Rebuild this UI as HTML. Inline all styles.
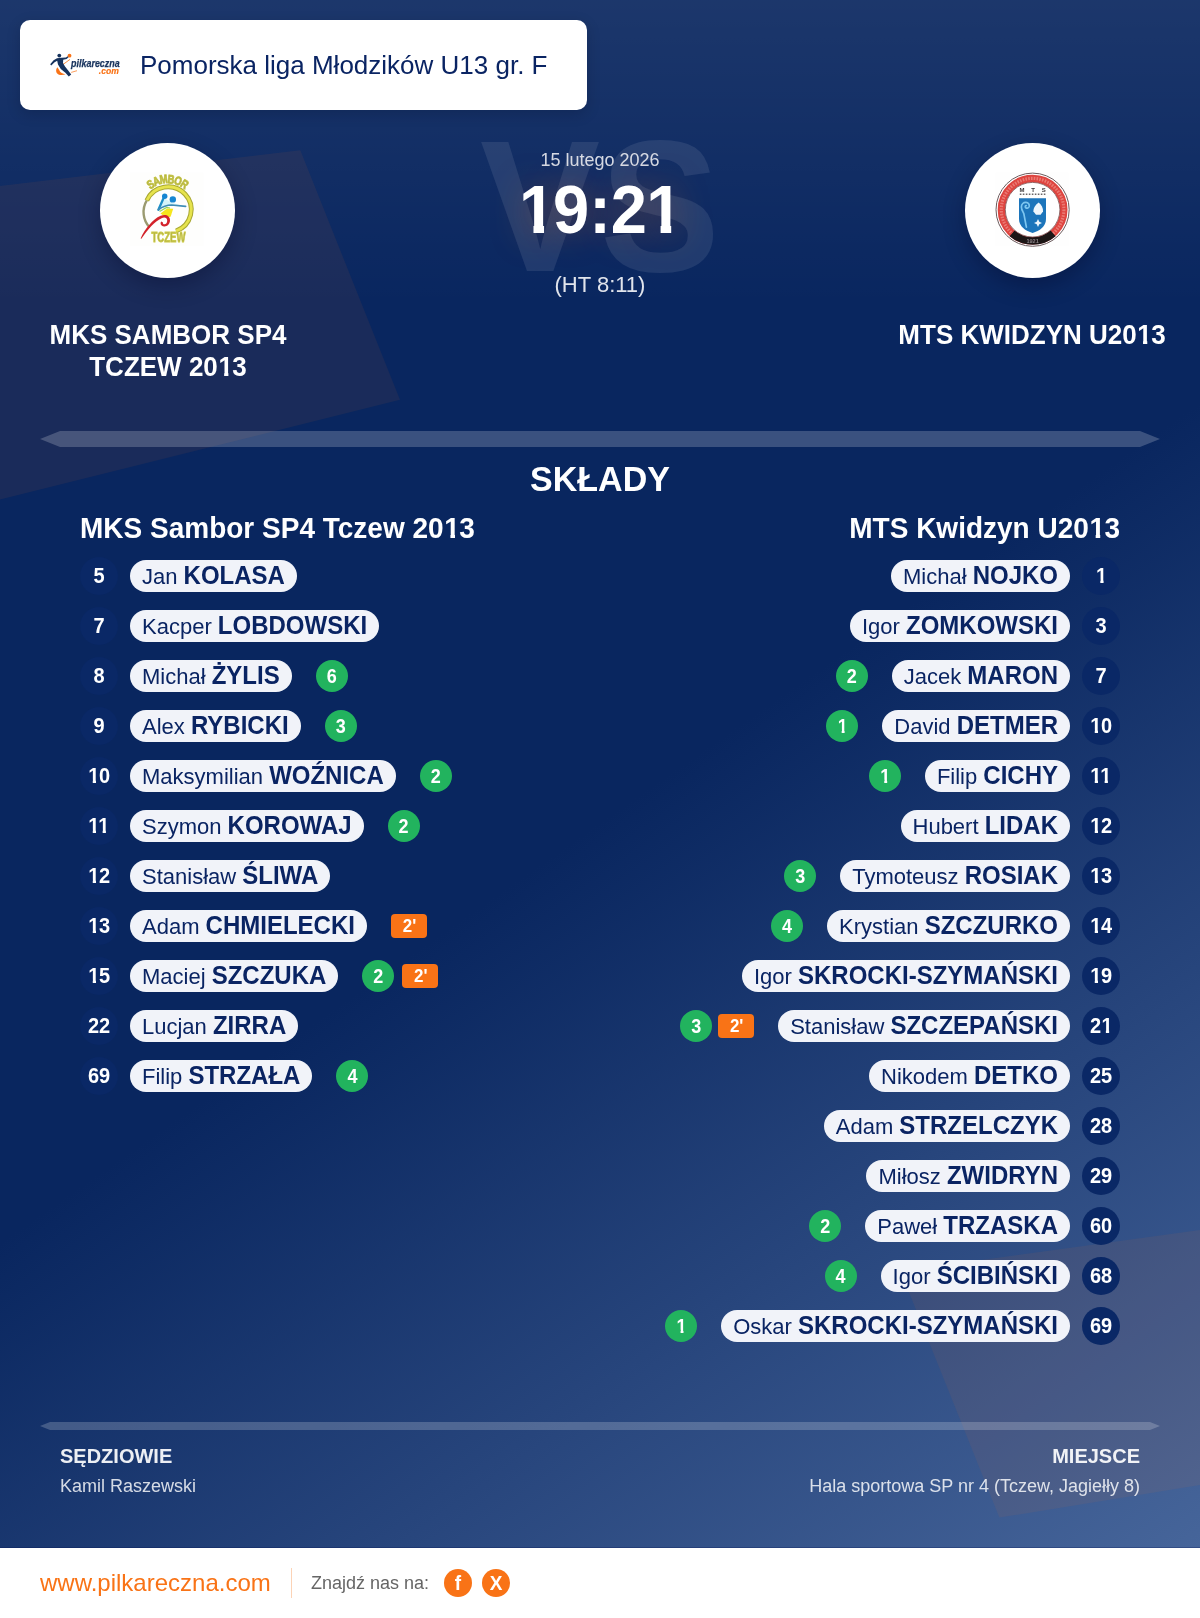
<!DOCTYPE html>
<html lang="pl"><head><meta charset="utf-8"><title>Pomorska liga Młodzików U13 gr. F</title>
<style>
*{box-sizing:border-box;margin:0;padding:0}
html,body{width:1200px;height:1618px;overflow:hidden;background:#fff}
body{font-family:"Liberation Sans",sans-serif;color:#fff;position:relative}
#bg{position:absolute;left:0;top:0;width:1200px;height:1548px;overflow:hidden;
 background:
  linear-gradient(180deg,rgba(255,255,255,.08) 0,rgba(255,255,255,0) 305px),
  linear-gradient(145deg,#09265f 0,#09265f 1018px,#46659a 1956px);
}
#bg svg{position:absolute;left:0;top:0}
#wrap{position:absolute;left:0;top:0;width:1200px;height:1618px;overflow:hidden;background:#0a2463;will-change:transform;transform:translateZ(0)}
.abs{position:absolute}
#head{left:20px;top:20px;width:567px;height:90px;background:#fff;border-radius:10px;box-shadow:0 4px 14px rgba(0,0,20,.18)}
#head .t{position:absolute;left:120px;top:0;line-height:90px;font-size:26px;color:#0a2463;white-space:nowrap}
.crest{width:135px;height:135px;border-radius:50%;background:#fff;top:143px;box-shadow:0 8px 22px rgba(0,0,30,.3)}
.vs{left:0;width:1200px;text-align:center;top:103px;font-size:180px;line-height:206px;font-weight:bold;color:rgba(255,255,255,.09);white-space:nowrap;transform:scaleY(1.045)}
.date{left:0;width:1200px;text-align:center;top:149px;font-size:18px;line-height:22px;color:rgba(255,255,255,.82)}
.score{left:0;width:1200px;text-align:center;top:172px;font-size:65px;line-height:76px;font-weight:bold;transform:scaleY(1.04)}
.glow{color:transparent;text-shadow:0 0 34px rgba(249,115,22,.35)}
.ht{left:0;width:1200px;text-align:center;top:272px;font-size:22px;line-height:26px;color:rgba(255,255,255,.88)}
.team{width:300px;text-align:center;top:319px;font-size:26px;line-height:32px;font-weight:bold}
.team span,.num i,.goal i,.pen i,.lab i{display:inline-block;font-style:normal;transform:scaleY(1.04)}
.num i{transform-origin:50% 25.9px;transform:scaleY(1.12)}
.goal i{transform-origin:50% 22.2px;transform:translateY(.55px) scaleY(1.12)}
.pen i{transform-origin:50% 17.9px;transform:translate(.5px,.75px) scaleY(1.1)}
.bar{left:40px;width:1120px;background:rgba(255,255,255,.2)}
.h2{left:0;width:1200px;text-align:center;top:459px;font-size:34px;transform:scaleY(1.04);line-height:40px;font-weight:bold}
.h3{top:513px;font-size:28px;line-height:32px;font-weight:bold;white-space:nowrap;transform:scaleY(1.03)}
.row{position:absolute;height:38px;display:flex;align-items:center;white-space:nowrap}
.row.l{left:80px}
.row.r{right:80px;justify-content:flex-end}
.num{width:38px;height:38px;border-radius:50%;background:#0a2866;font-weight:bold;font-size:20px;line-height:38px;text-align:center;flex:none}
.pill{height:32px;border-radius:16px;background:#f1f3f9;color:#0a2463;font-size:22px;line-height:32px;padding:0 12px;margin:0 12px}
.o{display:inline-block;line-height:1;text-decoration:none;clip-path:polygon(0 0,.385em 0,.385em 100%,.222em 100%,.222em .7em,0 .7em);position:relative;left:.022em}
.pill b{font-size:24px;display:inline-block;transform:scaleY(1.04)}
.ev{display:flex;align-items:center;gap:8px;margin:0 12px}
.row.r .ev{gap:6px}
.goal{width:32px;height:32px;border-radius:50%;background:#22b35e;font-weight:bold;font-size:18px;line-height:32px;text-align:center}
.pen{width:36px;height:24px;border-radius:4px;background:#f97316;font-weight:bold;font-size:17px;line-height:24px;text-align:center}
.lab{font-size:20px;line-height:24px;font-weight:bold;color:rgba(255,255,255,.92);top:1444px}
.val{font-size:18px;line-height:22px;color:rgba(255,255,255,.82);top:1475px}
#foot{left:0;top:1548px;width:1200px;height:70px;background:#fff}
#foot .www{position:absolute;left:40px;top:0;line-height:70px;font-size:24px;color:#f97316}
#foot .sep{position:absolute;left:291px;top:20px;width:1px;height:30px;background:#fcd3b6}
#foot .find{position:absolute;left:311px;top:0;line-height:70px;font-size:18px;color:#666}
.soc{position:absolute;top:21px;width:28px;height:28px;border-radius:50%;background:#f97316;color:#fff;font-weight:bold;font-size:19px;line-height:28px;text-align:center}
.soc i{display:inline-block;font-style:normal;transform:translateY(.5px) scaleY(1.08)}
</style></head>
<body>
<div id="wrap">
<div id="bg">
<svg width="1200" height="1548" viewBox="0 0 1200 1548">
<polygon points="-10,187.2 300.3,150.3 400,399.8 -10,502" fill="rgba(249,115,22,.07)"/>
<polygon points="900.5,1271 1210,1228.6 1210,1483.4 999.4,1517.6" fill="rgba(249,115,22,.07)"/>
</svg>
</div>
<div class="abs vs">VS</div>
<div id="head" class="abs"><div class="t">Pomorska liga Młodzików U13 gr. F</div></div>
<div class="abs crest" style="left:100px"></div>
<svg class="abs" style="left:45px;top:45px" width="80" height="40" viewBox="0 0 80 40">
<defs><filter id="bl" x="-10%" y="-10%" width="120%" height="120%"><feGaussianBlur stdDeviation="0.35"/></filter></defs>
<g filter="url(#bl)">
<path d="M12.4 22.2 C9.8 25.6 11.4 29.6 15.4 29.9 C17.4 30 19.2 29.8 20.6 29.3 C17.8 28.8 15 27.6 14.2 25 Z" fill="#f97316"/>
<path d="M17.8 19.6 L25 14.4" stroke="#f97316" stroke-width=".8" fill="none"/>
<path d="M26.2 27.4 L32 25.7" stroke="#f97316" stroke-width=".7" fill="none"/>
<circle cx="24.5" cy="10.7" r="1.9" fill="#f97316"/>
<circle cx="14.3" cy="10.6" r="1.9" fill="#16325c"/>
<path d="M12 13.2 L16.6 12.7 L21 12.4 L22.6 11.2 L23.5 12.3 L21.6 14 L18.2 14.8 L18 18 L20 21.4 L23 25.2 L26.2 29.4 L25 30.4 L23.8 31.6 L20.4 27.8 L15.8 24 L13 19.6 L12.2 15.8 L9.6 17.2 L6.2 20.4 L5.2 19.2 L8.6 15.2 Z" fill="#16325c"/>
<text x="26.1" y="21.7" font-family="Liberation Sans,sans-serif" font-weight="bold" font-style="italic" font-size="10" fill="#16325c" stroke="#16325c" stroke-width=".25" textLength="48.6" lengthAdjust="spacingAndGlyphs">pilkareczna</text>
<text x="53.8" y="28.7" font-family="Liberation Sans,sans-serif" font-weight="bold" font-style="italic" font-size="8.6" fill="#f97316" stroke="#f97316" stroke-width=".15" textLength="20" lengthAdjust="spacingAndGlyphs">.com</text>
</g></svg>
<svg class="abs" style="left:100px;top:143px" width="135" height="135" viewBox="100 143 135 135">
<defs><filter id="bl2" x="-10%" y="-10%" width="120%" height="120%"><feGaussianBlur stdDeviation="0.75"/></filter>
</defs>
<rect x="130" y="172.5" width="73.5" height="73.5" fill="#fefefd"/>
<g filter="url(#bl2)">
<path d="M149.6 227.4 A23.2 22.8 0 0 1 146.8 200.4" fill="none" stroke="#9a9a70" stroke-width="2.4"/>
<path d="M146.8 200.4 A23.2 22.8 0 1 1 176 231" fill="none" stroke="#a9a832" stroke-width="4.8"/>
<path d="M147 200 A23.2 22.8 0 1 1 176 231" fill="none" stroke="#e6e34e" stroke-width="2.8"/>
<g font-family="Liberation Sans,sans-serif" font-weight="bold" font-size="12" fill="#b0af44" stroke="#c4c344" stroke-width=".9"><text x="167.7" y="183.1" text-anchor="middle" transform="rotate(-34.0 167.7 209.7) translate(167.7 0) scale(.78 1) translate(-167.7 0)">S</text><text x="167.7" y="183.1" text-anchor="middle" transform="rotate(-21.5 167.7 209.7) translate(167.7 0) scale(.78 1) translate(-167.7 0)">A</text><text x="167.7" y="183.1" text-anchor="middle" transform="rotate(-7.5 167.7 209.7) translate(167.7 0) scale(.78 1) translate(-167.7 0)">M</text><text x="167.7" y="183.1" text-anchor="middle" transform="rotate(6.5 167.7 209.7) translate(167.7 0) scale(.78 1) translate(-167.7 0)">B</text><text x="167.7" y="183.1" text-anchor="middle" transform="rotate(20.0 167.7 209.7) translate(167.7 0) scale(.78 1) translate(-167.7 0)">O</text><text x="167.7" y="183.1" text-anchor="middle" transform="rotate(33.5 167.7 209.7) translate(167.7 0) scale(.78 1) translate(-167.7 0)">R</text></g>
<text x="151.5" y="242.4" font-family="Liberation Sans,sans-serif" font-weight="bold" font-size="14.5" fill="#b0af44" stroke="#cfcd48" stroke-width=".9" textLength="34" lengthAdjust="spacingAndGlyphs">TCZEW</text>
<path d="M163.5 198 L158.6 209.6 C163 206.5 167 205.2 172 205.2 L185.4 206.4 L172.8 203 Z" fill="#d4f3fa"/>
<path d="M160.4 213.4 L167 208.6 L173.2 208.8 L170.6 216.8 L166 217.6 Z" fill="#f6e61c"/>
<path d="M159.6 211.4 L166.6 207.4 L170 208" stroke="#9bd35a" stroke-width="1.2" fill="none"/>
<path d="M163.6 198 L158.4 209.8" stroke="#1f8ec6" stroke-width="2.3" stroke-linecap="round" fill="none"/>
<path d="M158.4 209.8 C162.6 206.6 166.6 205 171.6 205 L185.6 206.4" stroke="#3f8cb6" stroke-width="1.7" stroke-linecap="round" fill="none"/>
<circle cx="164.7" cy="196.2" r="2.7" fill="#1886d2"/>
<circle cx="172.8" cy="199.4" r="3.2" fill="#1886d2"/>
<path d="M140.6 238.4 C145 229 152.4 219.4 160.6 215.8 C165.6 213.6 170 215.6 170 220.2 C170 224.6 166.4 227.2 163.2 226.2 C160.8 225.4 159.8 223.2 161.2 221.4 L163 222.4 C162.6 223.6 163.4 224.2 164.4 224.2 C166.2 224.2 167.2 222.6 167.2 220.4 C167.2 217.8 164.6 216.8 161.6 218.2 C154.6 221.6 147.4 229.6 141.4 238.8 Z" fill="#d3222b"/>
</g></svg>
<div class="abs crest" style="left:965px"></div>
<svg class="abs" style="left:965px;top:143px" width="135" height="135" viewBox="965 143 135 135">
<defs><filter id="bl3" x="-10%" y="-10%" width="120%" height="120%"><feGaussianBlur stdDeviation="0.7"/></filter>
</defs>
<rect x="995.3" y="172.5" width="73.5" height="73.5" fill="#fefefe"/>
<g filter="url(#bl3)">
<circle cx="1032.6" cy="209.7" r="36.6" fill="#fff" stroke="#6b5a5c" stroke-width="1"/>
<circle cx="1032.6" cy="209.7" r="31.2" fill="none" stroke="#de443f" stroke-width="7.4"/>
<circle cx="1032.6" cy="209.7" r="31.3" fill="none" stroke="#ea7a73" stroke-width="3.2" stroke-dasharray="1.6 1.2"/>
<path d="M1012.1 233.3 A31.3 31.3 0 0 0 1053.1 233.3" fill="none" stroke="#1c1216" stroke-width="7.6"/>
<circle cx="1032.6" cy="209.7" r="27.3" fill="#fff" stroke="#6a3434" stroke-width=".7"/>
<text x="1019.6" y="191.8" font-family="Liberation Sans,sans-serif" font-weight="bold" font-size="6" fill="#3a3638" textLength="26.2" lengthAdjust="spacing">MTS</text>
<path d="M1019.8 194.2 H1045.8" stroke="#6a6668" stroke-width="1.5" stroke-dasharray="1.6 1.4"/>
<path d="M1019 198.3 H1046 V219 C1046 226.5 1039.5 231 1032.6 232.9 C1025.6 231 1019 226.5 1019 219 Z" fill="#1c74bb"/>
<path d="M1026.4 227.2 L1023.8 213.6 C1022.8 211.6 1021.4 209.6 1021.4 207 C1021.4 204 1023.6 202.2 1026 202.4 C1028.4 202.6 1029.6 204.6 1029.2 206.4 C1028.8 208 1027 208.6 1025.8 207.8 C1024.8 207 1025.2 205.6 1026.2 205.6" fill="none" stroke="#7cc6f0" stroke-width="1.7" stroke-linecap="round"/>
<path d="M1038.6 202.4 C1041.4 204.6 1043.4 208 1043 211.6 L1040.6 214.8 L1036 214.8 L1033.4 211.6 C1033.2 208 1035.6 204.6 1038.6 202.4 Z" fill="#eef6fc"/>
<path d="M1038 219 L1039.3 221.7 L1042 223 L1039.3 224.3 L1038 227 L1036.7 224.3 L1034 223 L1036.7 221.7 Z" fill="#eaf5fc"/>
<text x="1026.4" y="243.4" font-family="Liberation Sans,sans-serif" font-weight="bold" font-size="5.4" fill="#8a8486" textLength="12.4" lengthAdjust="spacingAndGlyphs">1921</text>
</g></svg>
<div class="abs date">15 lutego 2026</div>
<div class="abs score glow">19:21</div>
<div class="abs score"><s class="o" style="left:2.2px">1</s>9:2<s class="o" style="left:-.8px">1</s></div>
<div class="abs ht">(HT 8:11)</div>
<div class="abs team" style="left:18px"><span>MKS SAMBOR SP4</span><br><span>TCZEW 20<s class="o">1</s>3</span></div>
<div class="abs team" style="left:882px"><span>MTS KWIDZYN U20<s class="o">1</s>3</span></div>
<div class="abs bar" style="top:431px;height:16px;clip-path:polygon(20px 0,1100px 0,1120px 50%,1100px 100%,20px 100%,0 50%)"></div>
<div class="abs h2">SKŁADY</div>
<div class="abs h3" style="left:80px">MKS Sambor SP4 Tczew 20<s class="o">1</s>3</div>
<div class="abs h3" style="right:80px">MTS Kwidzyn U20<s class="o">1</s>3</div>
<div class="row l" style="top:557px"><span class="num"><i>5</i></span><span class="pill">Jan <b>KOLASA</b></span></div>
<div class="row l" style="top:607px"><span class="num"><i>7</i></span><span class="pill">Kacper <b>LOBDOWSKI</b></span></div>
<div class="row l" style="top:657px"><span class="num"><i>8</i></span><span class="pill">Michał <b>ŻYLIS</b></span><span class="ev"><span class="goal"><i>6</i></span></span></div>
<div class="row l" style="top:707px"><span class="num"><i>9</i></span><span class="pill">Alex <b>RYBICKI</b></span><span class="ev"><span class="goal"><i>3</i></span></span></div>
<div class="row l" style="top:757px"><span class="num"><i><s class="o">1</s>0</i></span><span class="pill">Maksymilian <b>WOŹNICA</b></span><span class="ev"><span class="goal"><i>2</i></span></span></div>
<div class="row l" style="top:807px"><span class="num"><i><s class="o">1</s><s class="o" style="left:-.8px">1</s></i></span><span class="pill">Szymon <b>KOROWAJ</b></span><span class="ev"><span class="goal"><i>2</i></span></span></div>
<div class="row l" style="top:857px"><span class="num"><i><s class="o">1</s>2</i></span><span class="pill">Stanisław <b>ŚLIWA</b></span></div>
<div class="row l" style="top:907px"><span class="num"><i><s class="o">1</s>3</i></span><span class="pill">Adam <b>CHMIELECKI</b></span><span class="ev"><span class="pen"><i>2'</i></span></span></div>
<div class="row l" style="top:957px"><span class="num"><i><s class="o">1</s>5</i></span><span class="pill">Maciej <b>SZCZUKA</b></span><span class="ev"><span class="goal"><i>2</i></span><span class="pen"><i>2'</i></span></span></div>
<div class="row l" style="top:1007px"><span class="num"><i>22</i></span><span class="pill">Lucjan <b>ZIRRA</b></span></div>
<div class="row l" style="top:1057px"><span class="num"><i>69</i></span><span class="pill">Filip <b>STRZAŁA</b></span><span class="ev"><span class="goal"><i>4</i></span></span></div>
<div class="row r" style="top:557px"><span class="pill">Michał <b>NOJKO</b></span><span class="num"><i><s class="o">1</s></i></span></div>
<div class="row r" style="top:607px"><span class="pill">Igor <b>ZOMKOWSKI</b></span><span class="num"><i>3</i></span></div>
<div class="row r" style="top:657px"><span class="ev"><span class="goal"><i>2</i></span></span><span class="pill">Jacek <b>MARON</b></span><span class="num"><i>7</i></span></div>
<div class="row r" style="top:707px"><span class="ev"><span class="goal"><i><s class="o">1</s></i></span></span><span class="pill">David <b>DETMER</b></span><span class="num"><i><s class="o">1</s>0</i></span></div>
<div class="row r" style="top:757px"><span class="ev"><span class="goal"><i><s class="o">1</s></i></span></span><span class="pill">Filip <b>CICHY</b></span><span class="num"><i><s class="o">1</s><s class="o" style="left:-.8px">1</s></i></span></div>
<div class="row r" style="top:807px"><span class="pill">Hubert <b>LIDAK</b></span><span class="num"><i><s class="o">1</s>2</i></span></div>
<div class="row r" style="top:857px"><span class="ev"><span class="goal"><i>3</i></span></span><span class="pill">Tymoteusz <b>ROSIAK</b></span><span class="num"><i><s class="o">1</s>3</i></span></div>
<div class="row r" style="top:907px"><span class="ev"><span class="goal"><i>4</i></span></span><span class="pill">Krystian <b>SZCZURKO</b></span><span class="num"><i><s class="o">1</s>4</i></span></div>
<div class="row r" style="top:957px"><span class="pill">Igor <b>SKROCKI-SZYMAŃSKI</b></span><span class="num"><i><s class="o">1</s>9</i></span></div>
<div class="row r" style="top:1007px"><span class="ev"><span class="goal"><i>3</i></span><span class="pen"><i>2'</i></span></span><span class="pill">Stanisław <b>SZCZEPAŃSKI</b></span><span class="num"><i>2<s class="o">1</s></i></span></div>
<div class="row r" style="top:1057px"><span class="pill">Nikodem <b>DETKO</b></span><span class="num"><i>25</i></span></div>
<div class="row r" style="top:1107px"><span class="pill">Adam <b>STRZELCZYK</b></span><span class="num"><i>28</i></span></div>
<div class="row r" style="top:1157px"><span class="pill">Miłosz <b>ZWIDRYN</b></span><span class="num"><i>29</i></span></div>
<div class="row r" style="top:1207px"><span class="ev"><span class="goal"><i>2</i></span></span><span class="pill">Paweł <b>TRZASKA</b></span><span class="num"><i>60</i></span></div>
<div class="row r" style="top:1257px"><span class="ev"><span class="goal"><i>4</i></span></span><span class="pill">Igor <b>ŚCIBIŃSKI</b></span><span class="num"><i>68</i></span></div>
<div class="row r" style="top:1307px"><span class="ev"><span class="goal"><i><s class="o">1</s></i></span></span><span class="pill">Oskar <b>SKROCKI-SZYMAŃSKI</b></span><span class="num"><i>69</i></span></div>
<div class="abs bar" style="top:1422px;height:8px;clip-path:polygon(10px 0,1110px 0,1120px 50%,1110px 100%,10px 100%,0 50%)"></div>
<div class="abs lab" style="left:60px"><i>SĘDZIOWIE</i></div>
<div class="abs val" style="left:60px">Kamil Raszewski</div>
<div class="abs lab" style="right:60px"><i>MIEJSCE</i></div>
<div class="abs val" style="right:60px">Hala sportowa SP nr 4 (Tczew, Jagiełły 8)</div>
<div class="abs" style="left:0;top:1547px;width:1200px;height:1px;background:rgba(0,16,80,.27)"></div>
<div id="foot" class="abs">
<div class="www">www.pilkareczna.com</div><div class="sep"></div><div class="find">Znajdź nas na:</div>
<div class="soc" style="left:444px"><i>f</i></div><div class="soc" style="left:482px"><i>X</i></div>
</div>
</div>
</body></html>
